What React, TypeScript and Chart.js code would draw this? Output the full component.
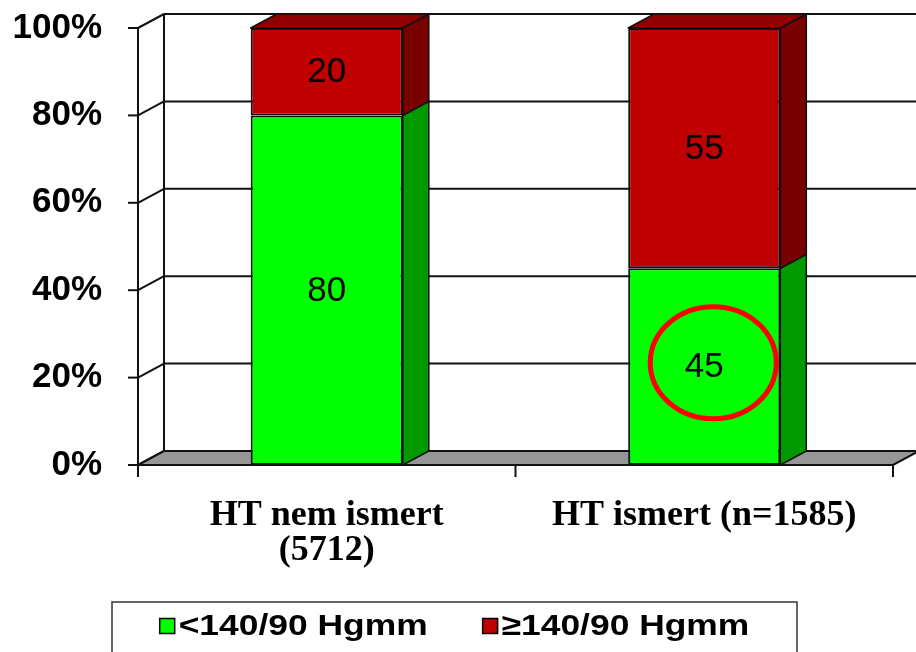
import React, { useEffect, useRef } from 'react';
import { Chart, registerables } from 'chart.js';

Chart.register(...registerables);

// ---- data ----
const categories: (string | string[])[] = [['HT nem ismert', '(5712)'], 'HT ismert (n=1585)'];
const seriesLabels = ['<140/90 Hgmm', '≥140/90 Hgmm'];
const belowTarget = [80, 45];
const aboveTarget = [20, 55];
const yTickValues = [0, 20, 40, 60, 80, 100];
const highlightedCategory = 1; // the circled "45"

// ---- style ----
const FRONT = ['#00FF00', '#C00000'];
const SIDE = ['#009A00', '#780000'];
const TOP = ['#00C000', '#900000'];
const FLOOR = '#969696';
const LINE = '#111111';
const DX = 26;
const DY = -14;
const SANS = '"Liberation Sans", Arial, sans-serif';
const SERIF = '"Liberation Serif", "Times New Roman", serif';

const threeD = {
  id: 'threeD',
  beforeDatasetsDraw(chart: any) {
    const { ctx, chartArea: a, scales } = chart;
    const ys = scales.y;
    const xs = scales.x;
    const y0 = ys.getPixelForValue(0);
    const yTop = ys.getPixelForValue(100);
    const backLeft = a.left + DX;
    const backRight = chart.width + 10;
    ctx.save();
    ctx.strokeStyle = LINE;
    ctx.lineWidth = 2;
    ctx.lineCap = 'butt';
    const line = (x1: number, y1: number, x2: number, y2: number) => {
      ctx.beginPath();
      ctx.moveTo(x1, y1);
      ctx.lineTo(x2, y2);
      ctx.stroke();
    };
    yTickValues.forEach((v) => {
      const py = ys.getPixelForValue(v);
      if (v !== 0) line(backLeft, py + DY, backRight, py + DY);
      line(a.left, py, backLeft, py + DY);
      line(a.left - 10, py, a.left, py);
    });
    line(backLeft, yTop + DY, backLeft, y0 + DY);
    // floor
    ctx.fillStyle = FLOOR;
    ctx.beginPath();
    ctx.moveTo(a.left, y0);
    ctx.lineTo(a.right, y0);
    ctx.lineTo(a.right + DX, y0 + DY);
    ctx.lineTo(backLeft, y0 + DY);
    ctx.closePath();
    ctx.fill();
    ctx.stroke();
    line(backLeft, y0 + DY, backRight, y0 + DY);
    // front axes
    line(a.left, yTop, a.left, y0 + 12);
    for (let i = 0; i <= categories.length; i++) {
      const px = xs.getPixelForValue(i - 0.5);
      line(px, y0, px, y0 + 12);
    }
    ctx.restore();
  },
  afterDatasetsDraw(chart: any) {
    const { ctx } = chart;
    const n = chart.data.datasets.length;
    ctx.save();
    ctx.strokeStyle = LINE;
    ctx.lineWidth = 1.5;
    ctx.lineJoin = 'round';
    for (let d = 0; d < n; d++) {
      const meta = chart.getDatasetMeta(d);
      meta.data.forEach((el: any) => {
        const { x, y, base, width } = el.getProps(['x', 'y', 'base', 'width'], true);
        const l = x - width / 2;
        const r = x + width / 2;
        ctx.fillStyle = SIDE[d];
        ctx.beginPath();
        ctx.moveTo(r, y);
        ctx.lineTo(r + DX, y + DY);
        ctx.lineTo(r + DX, base + DY);
        ctx.lineTo(r, base);
        ctx.closePath();
        ctx.fill();
        ctx.stroke();
        if (d === n - 1) {
          ctx.fillStyle = TOP[d];
          ctx.beginPath();
          ctx.moveTo(l, y);
          ctx.lineTo(l + DX, y + DY);
          ctx.lineTo(r + DX, y + DY);
          ctx.lineTo(r, y);
          ctx.closePath();
          ctx.fill();
          ctx.stroke();
        }
      });
    }
    // value labels
    ctx.fillStyle = '#000';
    ctx.font = `35px ${SANS}`;
    ctx.textAlign = 'center';
    ctx.textBaseline = 'middle';
    for (let d = 0; d < n; d++) {
      const meta = chart.getDatasetMeta(d);
      const vals = chart.data.datasets[d].data;
      meta.data.forEach((el: any, i: number) => {
        const { x, y, base } = el.getProps(['x', 'y', 'base'], true);
        ctx.fillText(String(vals[i]), x, (y + base) / 2 + 1);
      });
    }
    // highlight ellipse around the circled value
    const hel: any = chart.getDatasetMeta(0).data[highlightedCategory];
    if (hel) {
      const { x, y, base } = hel.getProps(['x', 'y', 'base'], true);
      ctx.strokeStyle = '#FF0000';
      ctx.lineWidth = 5;
      ctx.beginPath();
      ctx.ellipse(x + 9, (y + base) / 2 - 4, 63, 56, 0, 0, Math.PI * 2);
      ctx.stroke();
    }
    ctx.restore();
  },
  afterDraw(chart: any) {
    const { ctx } = chart;
    const boxL = 112;
    const boxR = 797;
    const boxT = 602;
    ctx.save();
    ctx.fillStyle = '#fff';
    ctx.strokeStyle = '#333';
    ctx.lineWidth = 1.5;
    ctx.fillRect(boxL, boxT, boxR - boxL, 60);
    ctx.strokeRect(boxL, boxT, boxR - boxL, 60);
    const fontSize = 30;
    const stretch = 1.18;
    ctx.font = `bold ${fontSize}px ${SANS}`;
    const sq = 15;
    const gap = 4;
    const spacing = 55;
    const labels = chart.data.datasets.map((ds: any) => ds.label);
    const widths = labels.map((t: string) => ctx.measureText(t).width * stretch);
    const total = widths.reduce((s: number, w: number) => s + w + sq + gap, 0) + spacing * (labels.length - 1);
    let cx = (boxL + boxR) / 2 - total / 2;
    const cy = 626;
    labels.forEach((t: string, i: number) => {
      ctx.fillStyle = FRONT[i];
      ctx.fillRect(cx, cy - sq / 2, sq, sq);
      ctx.strokeStyle = '#000';
      ctx.lineWidth = 1.5;
      ctx.strokeRect(cx, cy - sq / 2, sq, sq);
      cx += sq + gap;
      ctx.save();
      ctx.translate(cx, cy);
      ctx.scale(stretch, 1);
      ctx.fillStyle = '#000';
      ctx.textAlign = 'left';
      ctx.textBaseline = 'middle';
      ctx.fillText(t, 0, 1);
      ctx.restore();
      cx += widths[i] + spacing;
    });
    ctx.restore();
  },
};

export default function App() {
  const ref = useRef<HTMLCanvasElement>(null);
  useEffect(() => {
    const chart = new Chart(ref.current as HTMLCanvasElement, {
      type: 'bar',
      data: {
        labels: categories,
        datasets: [
          {
            label: seriesLabels[0],
            data: belowTarget,
            backgroundColor: FRONT[0],
            borderColor: LINE,
            borderWidth: 2,
            borderSkipped: false,
          },
          {
            label: seriesLabels[1],
            data: aboveTarget,
            backgroundColor: FRONT[1],
            borderColor: LINE,
            borderWidth: 2,
            borderSkipped: false,
          },
        ],
      },
      options: {
        animation: false,
        responsive: false,
        devicePixelRatio: 1,
        layout: { padding: { top: 28, right: 23, left: 0, bottom: 0 } },
        plugins: { legend: { display: false }, tooltip: { enabled: false } },
        datasets: { bar: { categoryPercentage: 1, barPercentage: 0.403 } },
        scales: {
          x: {
            stacked: true,
            grid: { display: false, drawTicks: false },
            border: { display: false },
            ticks: {
              color: '#000',
              padding: 33,
              maxRotation: 0,
              autoSkip: false,
              font: { family: SERIF, size: 36, weight: 'bold', lineHeight: 0.97 },
            },
            afterFit: (s: any) => {
              s.height = 187;
              s.paddingLeft = 0;
              s.paddingRight = 0;
            },
          },
          y: {
            stacked: true,
            min: 0,
            max: 100,
            grid: { display: false, drawTicks: false },
            border: { display: false },
            afterBuildTicks: (s: any) => {
              s.ticks = yTickValues.map((v) => ({ value: v }));
            },
            ticks: {
              color: '#000',
              padding: 36,
              font: { family: SANS, size: 35, weight: 'bold' },
              callback: (v: any) => `${v}%`,
            },
            afterFit: (s: any) => {
              s.width = 138;
              s.paddingTop = 0;
              s.paddingBottom = 0;
            },
          },
        },
      } as any,
      plugins: [threeD],
    });
    return () => chart.destroy();
  }, []);
  return (
    <div style={{ position: 'fixed', left: 0, top: 0, width: 916, height: 652, background: '#fff' }}>
      <canvas ref={ref} width={916} height={652} style={{ width: 916, height: 652, display: 'block' }} />
    </div>
  );
}
